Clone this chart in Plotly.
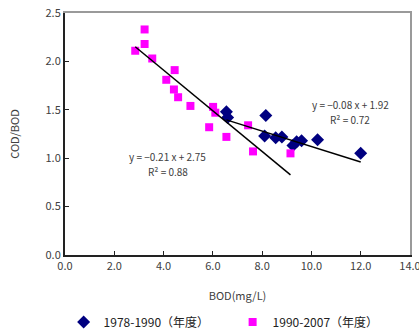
import plotly.graph_objects as go

# Data
navy_x = [6.55, 6.6, 8.15, 8.1, 8.55, 8.8, 9.25, 9.4, 9.6, 10.25, 12.0]
navy_y = [1.48, 1.42, 1.44, 1.23, 1.21, 1.22, 1.13, 1.17, 1.18, 1.19, 1.05]
magenta_x = [2.85, 3.23, 3.23, 3.54, 4.11, 4.45, 4.42, 4.59, 5.09, 6.01, 6.1, 5.85, 6.55, 7.43, 7.63, 9.15]
magenta_y = [2.11, 2.33, 2.18, 2.03, 1.81, 1.91, 1.71, 1.63, 1.54, 1.53, 1.47, 1.32, 1.22, 1.34, 1.07, 1.05]

series_names = ["1978-1990（年度）", "1990-2007（年度）"]
trend_slope = [-0.08, -0.21]
trend_intercept = [1.92, 2.75]
trend_r2 = [0.72, 0.88]

x_ticks = [0, 2, 4, 6, 8, 10, 12, 14]
y_ticks = [0, 0.5, 1.0, 1.5, 2.0, 2.5]

FONT = "Noto Sans CJK JP, Noto Sans, sans-serif"
TXT = "#404040"

fig = go.Figure()

fig.add_trace(go.Scatter(
    x=navy_x, y=navy_y, mode="markers", name=series_names[0],
    marker=dict(symbol="diamond", size=10, color="#000080"),
))
fig.add_trace(go.Scatter(
    x=magenta_x, y=magenta_y, mode="markers", name=series_names[1],
    marker=dict(symbol="square", size=8, color="#FF00FF"),
))

# Trend lines over each series' x range
for xs, m, b in [(navy_x, trend_slope[0], trend_intercept[0]),
                 (magenta_x, trend_slope[1], trend_intercept[1])]:
    x0, x1 = min(xs), max(xs)
    fig.add_trace(go.Scatter(
        x=[x0, x1], y=[m * x0 + b, m * x1 + b], mode="lines",
        line=dict(color="black", width=1.5), showlegend=False, hoverinfo="skip",
    ))

def eq_line(m, b):
    sign = "−" if m < 0 else ""
    return f"y = {sign}{abs(m):.2f} x + {b:.2f}"

ann_font = dict(size=10, color=TXT, family=FONT)
# upper-right equation
fig.add_annotation(x=11.57, y=1.555, text=eq_line(trend_slope[0], trend_intercept[0]),
                   showarrow=False, font=ann_font)
fig.add_annotation(x=11.57, y=1.405, text=f"R² = {trend_r2[0]:.2f}",
                   showarrow=False, font=ann_font)
# lower-left equation
fig.add_annotation(x=4.17, y=1.02, text=eq_line(trend_slope[1], trend_intercept[1]),
                   showarrow=False, font=ann_font)
fig.add_annotation(x=4.17, y=0.865, text=f"R² = {trend_r2[1]:.2f}",
                   showarrow=False, font=ann_font)

# gray top/right frame via overlaid axes
fig.add_trace(go.Scatter(x=[None], y=[None], xaxis="x2", yaxis="y2", showlegend=False, hoverinfo="skip"))

fig.update_layout(
    width=419, height=333,
    margin=dict(l=65, r=9, t=13, b=78, autoexpand=False),
    paper_bgcolor="white", plot_bgcolor="white",
    font=dict(family=FONT, color=TXT, size=11),
    showlegend=True,
    legend=dict(orientation="h", x=-0.004, xanchor="left", y=-0.277, yanchor="middle",
                font=dict(size=12, color="#222222"), itemwidth=30, tracegroupgap=0,
                entrywidth=124, entrywidthmode="pixels"),
    xaxis=dict(range=[0, 14], tickvals=x_ticks, tickformat=".1f", showgrid=False, zeroline=False,
               showline=True, linecolor="#222222", linewidth=2, ticks="inside", ticklen=4,
               tickcolor="#222222", ticklabeloverflow="allow", automargin=False,
               title=dict(text="BOD(mg/L)", font=dict(size=11), standoff=20)),
    yaxis=dict(range=[0, 2.5], tickvals=y_ticks, tickformat=".1f", showgrid=False, zeroline=False,
               showline=True, linecolor="#222222", linewidth=2, ticks="inside", ticklen=4,
               tickcolor="#222222", automargin=False,
               title=dict(text="COD/BOD", font=dict(size=11), standoff=24)),
    xaxis2=dict(overlaying="x", side="top", range=[0, 14], showline=True, linecolor="#9a9a9a",
                linewidth=1.5, showticklabels=False, ticks="", showgrid=False, zeroline=False,
                automargin=False),
    yaxis2=dict(overlaying="y", side="right", range=[0, 2.5], showline=True, linecolor="#9a9a9a",
                linewidth=1.5, showticklabels=False, ticks="", showgrid=False, zeroline=False,
                automargin=False),
)

fig.write_html("out.html", config={"displayModeBar": False},
               post_script="document.body.style.margin='0';document.body.style.overflow='hidden';")
